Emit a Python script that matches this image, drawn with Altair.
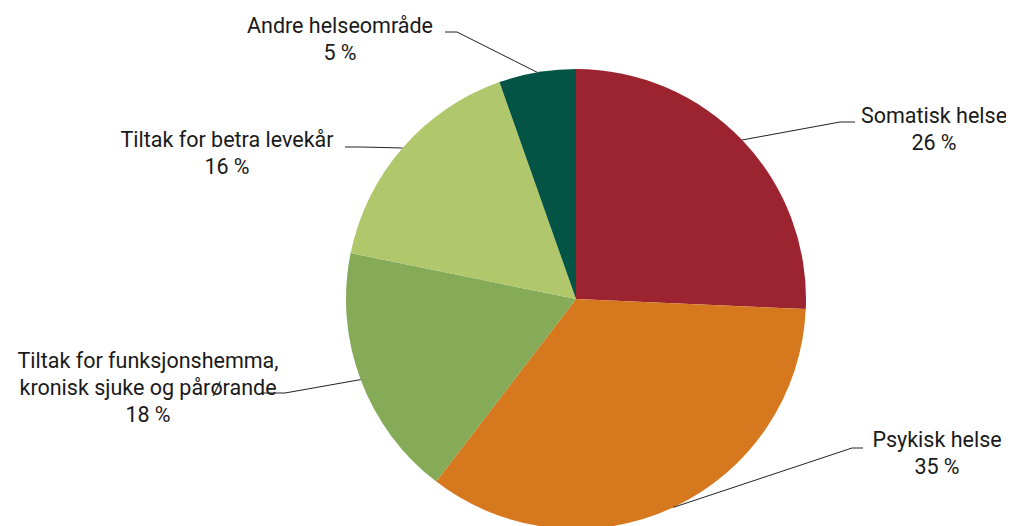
import math
import altair as alt
import pandas as pd

# ---- data ----
categories = ["Somatisk helse", "Psykisk helse",
              "Tiltak for funksjonshemma, kronisk sjuke og pårørande",
              "Tiltak for betra levekår", "Andre helseområde"]
values = [25.7, 34.7, 17.8, 16.4, 5.4]
colors = ["#9C2430", "#D6791E", "#85AA58", "#B1C76B", "#045446"]
label_lines = [["Somatisk helse"], ["Psykisk helse"],
               ["Tiltak for funksjonshemma,", "kronisk sjuke og pårørande"],
               ["Tiltak for betra levekår"], ["Andre helseområde"]]

# ---- layout (chart pixel coordinates) ----
W, H = 998, 518
CX, CY, R = 568, 291, 230
# label centre x and first-line baseline y
label_pos = [(926, 115), (929, 439), (140, 360), (219, 139), (332, 25)]
# elbow points of leader lines: (elbow, end)
elbows = [((832, 114), (847, 114)),
          ((844, 440), (855, 440)),
          ((277, 385), (254, 385)),
          ((354, 139), (337, 139)),
          ((449, 24), (437, 24))]
LINE_H = 27
FONT = "Roboto"
FS = 21.5

df = pd.DataFrame({"cat": categories, "value": values,
                   "idx": list(range(len(values)))})

pie = alt.Chart(df).mark_arc(outerRadius=R, stroke=None).encode(
    theta=alt.Theta("value:Q", stack=True),
    color=alt.Color("cat:N", scale=alt.Scale(domain=categories, range=colors), legend=None),
    order=alt.Order("idx:Q"),
    x=alt.value(CX), y=alt.value(CY),
)

# leader lines: start at slice edge at mid angle
total = sum(values)
rows = []
cum = 0.0
for i, v in enumerate(values):
    mid = (cum + v / 2) / total * 2 * math.pi
    cum += v
    sx = CX + R * math.sin(mid)
    sy = CY - R * math.cos(mid)
    (ex, ey), (fx, fy) = elbows[i]
    for k, (px, py) in enumerate([(sx, sy), (ex, ey), (fx, fy)]):
        rows.append({"g": i, "o": k, "x": px, "y": py})
ldf = pd.DataFrame(rows)
lines = alt.Chart(ldf).mark_line(color="#222222", strokeWidth=1).encode(
    x=alt.X("x:Q", scale=None, axis=None),
    y=alt.Y("y:Q", scale=None, axis=None),
    detail="g:N",
    order="o:Q",
)

trows = []
for i, v in enumerate(values):
    lx, ly = label_pos[i]
    texts = label_lines[i] + [f"{round(v)} %"]
    for k, t in enumerate(texts):
        trows.append({"t": t, "x": lx, "y": ly + k * LINE_H})
tdf = pd.DataFrame(trows)
texts = alt.Chart(tdf).mark_text(font=FONT, fontSize=FS, color="#1a1a1a",
                                  align="center", baseline="alphabetic").encode(
    x=alt.X("x:Q", scale=None, axis=None),
    y=alt.Y("y:Q", scale=None, axis=None),
    text="t:N",
)

chart = alt.layer(pie, lines, texts).properties(
    width=W, height=H, padding=0, autosize=alt.AutoSizeParams(type="none")
).configure_view(stroke=None)

chart.save("out.html", embed_options={"renderer": "svg", "actions": False})
